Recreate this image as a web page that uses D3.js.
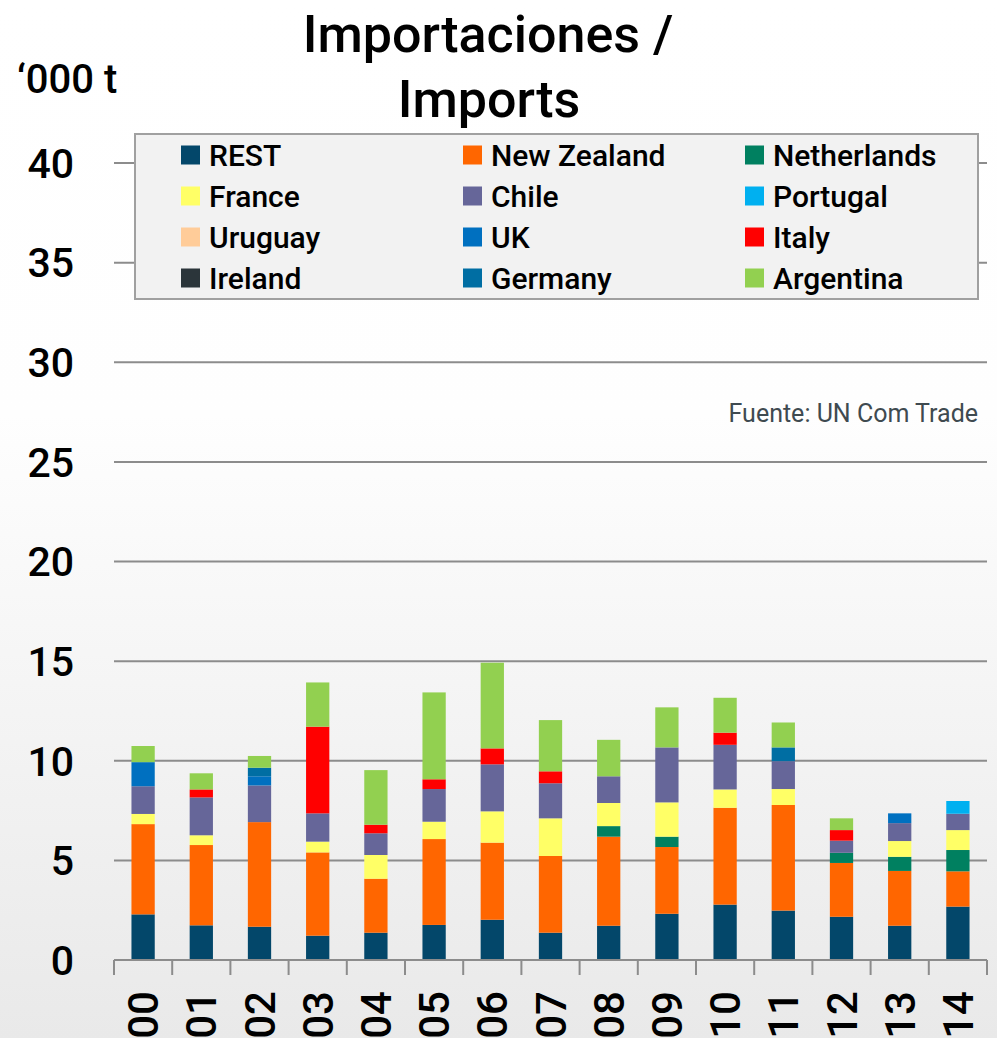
<!DOCTYPE html>
<html>
<head>
<meta charset="utf-8">
<script src="https://cdn.jsdelivr.net/npm/d3@7"></script>
<style>
  body { margin: 0; padding: 0; background: #fff; }
  svg { display: block; }
</style>
</head>
<body>
<script>
'use strict';

// years on the x axis (last two digits)
const years = ["00", "01", "02", "03", "04", "05", "06", "07", "08", "09", "10", "11", "12", "13", "14"];

// series in stacking order, bottom to top ('000 t)
const series = ["REST", "New Zealand", "Netherlands", "France", "Chile", "Portugal",
                "Uruguay", "UK", "Italy", "Ireland", "Germany", "Argentina"];

const rest        = [2.29, 1.74, 1.67, 1.22, 1.37, 1.76, 2.02, 1.37, 1.72, 2.32, 2.78, 2.48, 2.17, 1.72, 2.68];
const newZealand  = [4.53, 4.03, 5.25, 4.18, 2.71, 4.31, 3.87, 3.85, 4.47, 3.35, 4.86, 5.30, 2.70, 2.75, 1.77];
const netherlands = [0, 0, 0, 0, 0, 0, 0, 0, 0.53, 0.52, 0, 0, 0.51, 0.71, 1.07];
const france      = [0.51, 0.49, 0, 0.54, 1.19, 0.87, 1.57, 1.89, 1.16, 1.72, 0.92, 0.80, 0, 0.79, 1.00];
const chile       = [1.39, 1.90, 1.84, 1.42, 1.09, 1.64, 2.36, 1.76, 1.34, 2.76, 2.24, 1.40, 0.61, 0.90, 0.82];
const portugal    = [0, 0, 0, 0, 0, 0, 0, 0, 0, 0, 0, 0, 0, 0, 0.64];
const uruguay     = [0, 0, 0, 0, 0, 0, 0, 0, 0, 0, 0, 0, 0, 0, 0];
const uk          = [1.21, 0, 0.46, 0, 0, 0, 0, 0, 0, 0, 0, 0, 0, 0.49, 0];
const italy       = [0, 0.40, 0, 4.35, 0.43, 0.49, 0.80, 0.60, 0, 0, 0.61, 0, 0.53, 0, 0];
const ireland     = [0, 0, 0, 0, 0, 0, 0, 0, 0, 0, 0, 0, 0, 0, 0];
const germany     = [0, 0, 0.43, 0, 0, 0, 0, 0, 0, 0, 0, 0.69, 0, 0, 0];
const argentina   = [0.81, 0.81, 0.59, 2.22, 2.74, 4.36, 4.30, 2.57, 1.83, 2.01, 1.75, 1.25, 0.59, 0, 0];

const colors = ["#03476a", "#ff6600", "#008060", "#ffff66", "#666699", "#00b0f0",
                "#ffcc99", "#0070c0", "#ff0000", "#2b353a", "#006ea3", "#92d050"];

const yTicks = [0, 5, 10, 15, 20, 25, 30, 35, 40];

const values = [rest, newZealand, netherlands, france, chile, portugal,
                uruguay, uk, italy, ireland, germany, argentina];

// build table for d3.stack
const table = years.map((yr, i) => {
  let row = { year: yr };
  series.forEach((s, k) => { row[s] = values[k][i]; });
  return row;
});

const width = 997, height = 1038;
const font = "Roboto, 'Liberation Sans', Arial, sans-serif";

const svg = d3.select("body").append("svg")
  .attr("width", width)
  .attr("height", height)
  .style("font-family", font)
  .style("font-weight", 500);

// background gradient (white to light grey)
const defs = svg.append("defs");
const grad = defs.append("linearGradient")
  .attr("id", "bg")
  .attr("x1", 0).attr("y1", 0).attr("x2", 0).attr("y2", 1);
grad.append("stop").attr("offset", "0%").attr("stop-color", "#ffffff");
grad.append("stop").attr("offset", "40%").attr("stop-color", "#fefefe");
grad.append("stop").attr("offset", "100%").attr("stop-color", "#e9e9e9");

svg.append("rect")
  .attr("width", width)
  .attr("height", height)
  .attr("fill", "url(#bg)");

// scales
const x = d3.scaleBand()
  .domain(years)
  .range([114, 987])
  .paddingInner(0.6)
  .paddingOuter(0.3);

const y = d3.scaleLinear()
  .domain([0, 40])
  .range([960, 163]);

// gridlines
svg.append("g")
  .selectAll("line")
  .data(yTicks.filter(d => d > 0))
  .enter()
  .append("line")
    .attr("x1", 114)
    .attr("x2", 987)
    .attr("y1", d => y(d))
    .attr("y2", d => y(d))
    .attr("stroke", "#8c8c8c")
    .attr("stroke-width", 2);

// y labels
svg.append("g")
  .selectAll("text")
  .data(yTicks)
  .enter()
  .append("text")
    .attr("x", 74)
    .attr("y", d => y(d))
    .attr("dy", "0.36em")
    .attr("text-anchor", "end")
    .style("font-size", "41px")
    .attr("fill", "#000")
    .text(d => d);

// stacked bars
const stack = d3.stack().keys(series);
const layers = stack(table);

svg.append("g")
  .selectAll("g")
  .data(layers)
  .enter()
  .append("g")
    .attr("fill", (d, i) => colors[i])
  .selectAll("rect")
  .data(d => d.filter(p => p[1] - p[0] > 0))
  .enter()
  .append("rect")
    .attr("x", d => x(d.data.year))
    .attr("width", x.bandwidth())
    .attr("y", d => y(d[1]))
    .attr("height", d => y(d[0]) - y(d[1]));

// x axis line and tick marks at category boundaries
let step = x.step();
let bounds = years.map(yr => x(yr) - step * 0.3);
bounds.push(x(years[years.length - 1]) + x.bandwidth() + step * 0.3);

svg.append("line")
  .attr("x1", 114)
  .attr("x2", 987)
  .attr("y1", y(0))
  .attr("y2", y(0))
  .attr("stroke", "#8c8c8c")
  .attr("stroke-width", 2);

svg.append("g")
  .selectAll("line")
  .data(bounds)
  .enter()
  .append("line")
    .attr("x1", d => d)
    .attr("x2", d => d)
    .attr("y1", y(0))
    .attr("y2", y(0) + 15)
    .attr("stroke", "#8c8c8c")
    .attr("stroke-width", 2);

// x labels, rotated
svg.append("g")
  .selectAll("text")
  .data(years)
  .enter()
  .append("text")
    .attr("transform", d => "translate(" + (x(d) + x.bandwidth() / 2) + ",991)rotate(-90)")
    .attr("text-anchor", "end")
    .attr("dy", "0.36em")
    .style("font-size", "42px")
    .attr("fill", "#000")
    .text(d => d);

// legend
svg.append("rect")
  .attr("x", 135)
  .attr("y", 134)
  .attr("width", 843)
  .attr("height", 165)
  .attr("fill", "#f2f2f2")
  .attr("stroke", "#a0a0a0")
  .attr("stroke-width", 2);

const colX = [181, 463, 745];
const rowY = [155, 196, 237, 278];

let legend = svg.append("g")
  .selectAll("g")
  .data(series)
  .enter()
  .append("g")
    .attr("transform", (d, i) => "translate(" + colX[i % 3] + "," + rowY[Math.floor(i / 3)] + ")");

legend.append("rect")
  .attr("x", 0)
  .attr("y", -9.5)
  .attr("width", 19)
  .attr("height", 19)
  .attr("fill", (d, i) => colors[i]);

legend.append("text")
  .attr("x", 28)
  .attr("dy", "0.36em")
  .style("font-size", "30px")
  .attr("fill", "#000")
  .text(d => d);

// title and unit label
svg.append("text")
  .attr("x", 488)
  .attr("y", 52)
  .attr("text-anchor", "middle")
  .style("font-size", "52px")
  .text("Importaciones /");

svg.append("text")
  .attr("x", 489)
  .attr("y", 117)
  .attr("text-anchor", "middle")
  .style("font-size", "52px")
  .text("Imports");

svg.append("text")
  .attr("x", 17)
  .attr("y", 93)
  .style("font-size", "40px")
  .text("\u2018000 t");

// source note
svg.append("text")
  .attr("x", 978)
  .attr("y", 422)
  .attr("text-anchor", "end")
  .style("font-size", "25px")
  .style("font-weight", 400)
  .attr("fill", "#3f4a50")
  .text("Fuente: UN Com Trade");
</script>
</body>
</html>
